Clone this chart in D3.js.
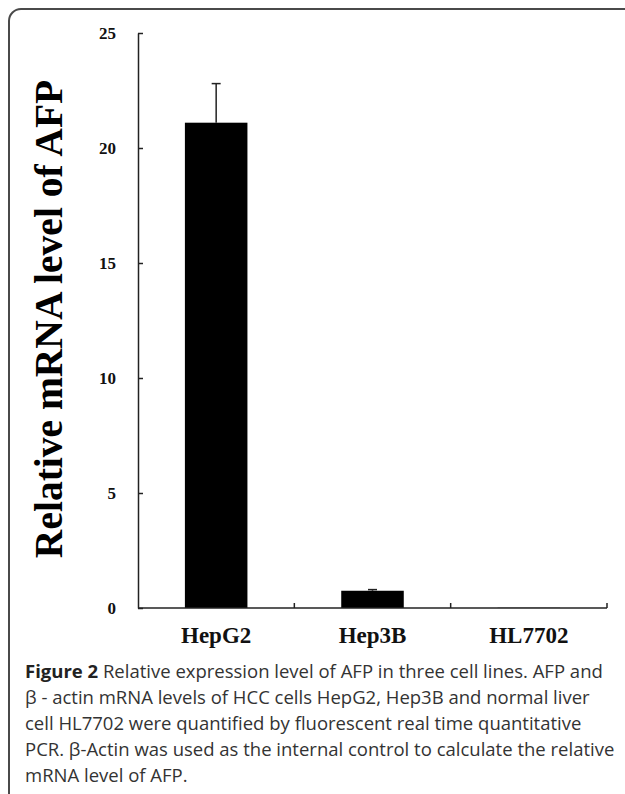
<!DOCTYPE html>
<html>
<head>
<meta charset="utf-8">
<script src="https://cdn.jsdelivr.net/npm/d3@7"></script>
<style>
  body { margin: 0; background: #fff; }
  svg { display: block; }
</style>
</head>
<body>
<div id="chart"></div>
<script>
// data
var cellLines = ["HepG2", "Hep3B", "HL7702"];
var relLevel = [21.1, 0.75, 0.01];
var relError = [1.7, 0.05, 0];
var yTicks = [0, 5, 10, 15, 20, 25];
var captionLines = [
    "Relative expression level of AFP in three cell lines. AFP and",
    "\u03b2 - actin mRNA levels of HCC cells HepG2, Hep3B and normal liver",
    "cell HL7702 were quantified by fluorescent real time quantitative",
    "PCR. \u03b2-Actin was used as the internal control to calculate the relative",
    "mRNA level of AFP."
];

var W = 625, H = 794;
var margin = { top: 33, right: 18, bottom: 186, left: 138 };

var svg = d3.select("#chart")
    .append("svg")
    .attr("width", W)
    .attr("height", H);

// frame round the figure (right and bottom edges run off the page)
svg.append("rect")
    .attr("x", 9).attr("y", 9)
    .attr("width", 700).attr("height", 820)
    .attr("rx", 12)
    .style("fill", "none")
    .style("stroke", "#4a4a4a")
    .style("stroke-width", 2);

var g = svg.append("g")
    .attr("transform", "translate(" + margin.left + "," + margin.top + ")");

var width = 607 - margin.left;
var height = 608 - margin.top;

var x = d3.scaleBand()
    .domain(cellLines)
    .range([0, width])
    .paddingInner(0.6)
    .paddingOuter(0.3);

var y = d3.scaleLinear()
    .domain([0, 25])
    .range([height, 0]);

// bars
g.selectAll(".bar")
    .data(cellLines)
    .enter().append("rect")
    .attr("class", "bar")
    .attr("x", function (d) { return x(d); })
    .attr("y", function (d, i) { return y(relLevel[i]); })
    .attr("width", x.bandwidth())
    .attr("height", function (d, i) { return height - y(relLevel[i]); })
    .style("fill", "#000");

// error bars (upper only)
var err = g.selectAll(".err")
    .data(cellLines.filter(function (d, i) { return relError[i] > 0; }))
    .enter().append("g")
    .attr("class", "err");

err.append("line")
    .attr("x1", function (d) { return x(d) + x.bandwidth() / 2; })
    .attr("x2", function (d) { return x(d) + x.bandwidth() / 2; })
    .attr("y1", function (d) { var i = cellLines.indexOf(d); return y(relLevel[i]); })
    .attr("y2", function (d) { var i = cellLines.indexOf(d); return y(relLevel[i] + relError[i]); })
    .style("stroke", "#222")
    .style("stroke-width", 1.5);

err.append("line")
    .attr("x1", function (d) { return x(d) + x.bandwidth() / 2 - 4.5; })
    .attr("x2", function (d) { return x(d) + x.bandwidth() / 2 + 4.5; })
    .attr("y1", function (d) { var i = cellLines.indexOf(d); return y(relLevel[i] + relError[i]); })
    .attr("y2", function (d) { var i = cellLines.indexOf(d); return y(relLevel[i] + relError[i]); })
    .style("stroke", "#222")
    .style("stroke-width", 1.5);

// y axis, ticks pointing inside
var yAxis = g.append("g")
    .call(d3.axisLeft(y).tickValues(yTicks).tickSizeInner(-5).tickSizeOuter(0).tickPadding(22));
yAxis.select(".domain").style("stroke", "#222").style("stroke-width", 1.5);
yAxis.selectAll(".tick line").style("stroke", "#222").style("stroke-width", 1.5);
yAxis.selectAll(".tick text")
    .style("font-family", "'Liberation Serif', 'Times New Roman', serif")
    .style("font-weight", "bold")
    .style("font-size", "17px")
    .style("fill", "#111");

// x axis: line plus inside ticks at category boundaries
var xAxis = g.append("g")
    .attr("transform", "translate(0," + height + ")");
xAxis.append("line")
    .attr("x1", 0).attr("x2", width)
    .style("stroke", "#222")
    .style("stroke-width", 1.5);
xAxis.selectAll(".xtick")
    .data(cellLines)
    .enter().append("line")
    .attr("class", "xtick")
    .attr("x1", function (d) { return x(d) + x.bandwidth() / 2 + x.step() / 2; })
    .attr("x2", function (d) { return x(d) + x.bandwidth() / 2 + x.step() / 2; })
    .attr("y1", 0).attr("y2", -5)
    .style("stroke", "#222")
    .style("stroke-width", 1.5);
xAxis.selectAll(".xlab")
    .data(cellLines)
    .enter().append("text")
    .attr("class", "xlab")
    .attr("x", function (d) { return x(d) + x.bandwidth() / 2; })
    .attr("y", 35)
    .style("text-anchor", "middle")
    .style("font-family", "'Liberation Serif', 'Times New Roman', serif")
    .style("font-weight", "bold")
    .style("font-size", "23px")
    .style("fill", "#111")
    .text(function (d) { return d; });

// y axis title
svg.append("text")
    .attr("transform", "translate(62,319) rotate(-90)")
    .style("text-anchor", "middle")
    .style("font-family", "'Liberation Serif', 'Times New Roman', serif")
    .style("font-weight", "bold")
    .style("font-size", "39.5px")
    .style("fill", "#000")
    .text("Relative mRNA level of AFP");

// caption
var cap = svg.append("g")
    .style("font-family", "'Open Sans', 'Noto Sans', sans-serif")
    .style("font-size", "18.5px")
    .style("fill", "#333");

captionLines.forEach(function (line, i) {
    var t = cap.append("text")
        .attr("x", 25)
        .attr("y", 678 + i * 26);
    if (i === 0) {
        t.append("tspan").style("font-weight", "bold").style("fill", "#222").text("Figure 2");
        t.append("tspan").text(" " + line);
    } else {
        t.text(line);
    }
});
</script>
</body>
</html>
